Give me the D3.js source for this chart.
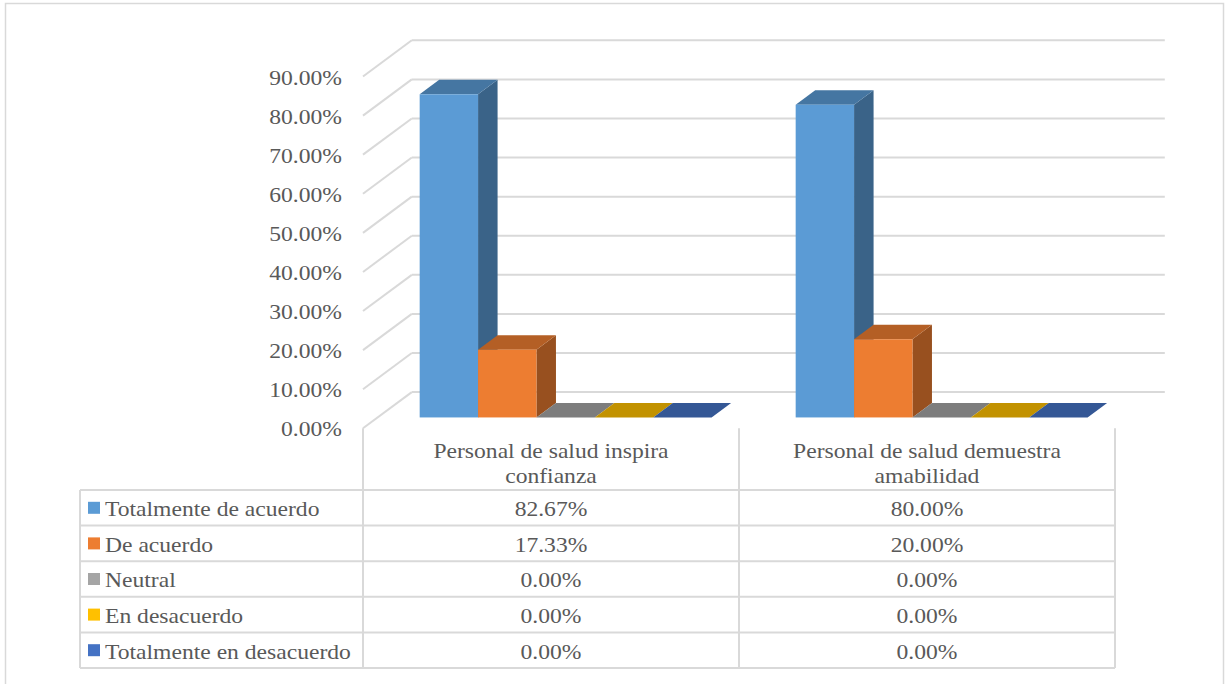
<!DOCTYPE html>
<html>
<head>
<meta charset="utf-8">
<script src="https://cdn.jsdelivr.net/npm/d3@7"></script>
<style>
  body { margin: 0; background: #fff; }
  text { font-family: "Liberation Serif", "Times New Roman", serif; fill: #595959; }
</style>
</head>
<body>
<div id="chart"></div>
<script>
// data
var categories = ["Personal de salud inspira confianza", "Personal de salud demuestra amabilidad"];
var categoryLines = [["Personal de salud inspira", "confianza"], ["Personal de salud demuestra", "amabilidad"]];
var series = ["Totalmente de acuerdo", "De acuerdo", "Neutral", "En desacuerdo", "Totalmente en desacuerdo"];
var inspiraValues = [82.67, 17.33, 0, 0, 0];
var amabilidadValues = [80.00, 20.00, 0, 0, 0];
var yTicks = [0, 10, 20, 30, 40, 50, 60, 70, 80, 90];

var seriesColors = ["#5b9bd5", "#ed7d31", "#a5a5a5", "#ffc000", "#4472c4"];

var svgWidth = 1227;
var svgHeight = 684;

// oblique depth of the 3D box (front -> back)
var depthX = 48.8;
var depthY = 36.2;
var barZ0 = 0.30;
var barZ1 = 0.70;
var textStretch = 1.18;

var svg = d3.select("#chart")
  .append("svg")
  .attr("width", svgWidth)
  .attr("height", svgHeight);

svg.append("rect")
  .attr("x", 5.5).attr("y", 3.5)
  .attr("width", 1218).attr("height", 720)
  .attr("fill", "#fff")
  .attr("stroke", "#d9d9d9")
  .attr("stroke-width", 1.5);

// scales (front plane)
var yScale = d3.scaleLinear()
  .domain([0, 90])
  .range([428.3, 76.5]);

var xScale = d3.scaleBand()
  .domain(categories)
  .range([363, 1115]);

var xInner = d3.scaleBand()
  .domain(series)
  .range([0, xScale.bandwidth()])
  .paddingOuter(0.72);

function px(x, z) { return x + z * depthX; }
function py(v, z) { return yScale(v) - z * depthY; }

// walls: back gridlines and left side diagonals
var grid = svg.append("g")
  .attr("stroke", "#d9d9d9")
  .attr("stroke-width", 2)
  .attr("fill", "none");

grid.selectAll(".back")
  .data(yTicks)
  .enter()
  .append("line")
  .attr("x1", px(363, 1))
  .attr("x2", px(1116, 1))
  .attr("y1", d => py(d, 1))
  .attr("y2", d => py(d, 1));

grid.selectAll(".side")
  .data(yTicks)
  .enter()
  .append("line")
  .attr("x1", px(363, 0))
  .attr("x2", px(363, 1))
  .attr("y1", d => py(d, 0))
  .attr("y2", d => py(d, 1));

// y labels
svg.selectAll(".ylabel")
  .data(yTicks)
  .enter()
  .append("text")
  .attr("text-anchor", "end")
  .attr("font-size", 20)
  .attr("transform", d => `translate(342, ${yScale(d) + 8}) scale(${textStretch},1)`)
  .text(d => d3.format(".2f")(d) + "%");

// shade helper
function shade(c, k) {
  var col = d3.rgb(c);
  return d3.rgb(col.r * k, col.g * k, col.b * k).formatHex();
}

var allValues = [inspiraValues, amabilidadValues];

var bars = [];
categories.forEach(function(cat, ci) {
  series.forEach(function(s, si) {
    bars.push({ cat: cat, s: s, si: si, value: allValues[ci][si] });
  });
});

var barGroup = svg.append("g");

bars.forEach(function(d) {
  var x0 = xScale(d.cat) + xInner(d.s);
  var x1 = x0 + xInner.bandwidth();
  var color = seriesColors[d.si];
  var g = barGroup.append("g");

  // right side face
  g.append("polygon")
    .attr("points", [
      [px(x1, barZ0), py(0, barZ0)],
      [px(x1, barZ0), py(d.value, barZ0)],
      [px(x1, barZ1), py(d.value, barZ1)],
      [px(x1, barZ1), py(0, barZ1)]
    ].join(" "))
    .attr("fill", shade(color, 0.64));

  // top face
  g.append("polygon")
    .attr("points", [
      [px(x0, barZ0), py(d.value, barZ0)],
      [px(x1, barZ0), py(d.value, barZ0)],
      [px(x1, barZ1), py(d.value, barZ1)],
      [px(x0, barZ1), py(d.value, barZ1)]
    ].join(" "))
    .attr("fill", shade(color, 0.76));

  // front face
  g.append("rect")
    .attr("x", px(x0, barZ0))
    .attr("y", py(d.value, barZ0))
    .attr("width", x1 - x0)
    .attr("height", py(0, barZ0) - py(d.value, barZ0))
    .attr("fill", color);
});

// data table
var rowScale = d3.scaleBand()
  .domain(series)
  .range([490, 668]);

var tableLines = svg.append("g")
  .attr("stroke", "#d9d9d9")
  .attr("stroke-width", 2)
  .attr("fill", "none");

// horizontal row lines
tableLines.selectAll(".hrow")
  .data(series.concat(["end"]))
  .enter()
  .append("line")
  .attr("x1", 80)
  .attr("x2", 1115)
  .attr("y1", (d, i) => i < series.length ? rowScale(d) : rowScale.range()[1])
  .attr("y2", (d, i) => i < series.length ? rowScale(d) : rowScale.range()[1]);

// left border of legend column
tableLines.append("line")
  .attr("x1", 80).attr("x2", 80)
  .attr("y1", 490).attr("y2", 668);

// column separators, from floor down
var colEdges = categories.map(c => xScale(c)).concat([xScale.range()[1]]);
tableLines.selectAll(".vcol")
  .data(colEdges)
  .enter()
  .append("line")
  .attr("x1", d => d).attr("x2", d => d)
  .attr("y1", 428.3)
  .attr("y2", 668);

// category headers
categoryLines.forEach(function(lines, ci) {
  var cx = xScale(categories[ci]) + xScale.bandwidth() / 2;
  lines.forEach(function(line, li) {
    svg.append("text")
      .attr("text-anchor", "middle")
      .attr("font-size", 20)
      .attr("transform", `translate(${cx}, ${458.3 + li * 25}) scale(${textStretch},1)`)
      .text(line);
  });
});

// legend keys and series names
series.forEach(function(s, si) {
  var cy = rowScale(s) + rowScale.bandwidth() / 2;
  svg.append("rect")
    .attr("x", 88)
    .attr("y", cy - 6)
    .attr("width", 12)
    .attr("height", 12)
    .attr("fill", seriesColors[si]);
  svg.append("text")
    .attr("font-size", 20)
    .attr("transform", `translate(105, ${cy + 8.3}) scale(${textStretch},1)`)
    .text(s);

  allValues.forEach(function(vals, ci) {
    var cx = xScale(categories[ci]) + xScale.bandwidth() / 2;
    svg.append("text")
      .attr("text-anchor", "middle")
      .attr("font-size", 20)
      .attr("transform", `translate(${cx}, ${cy + 8.3}) scale(${textStretch},1)`)
      .text(d3.format(".2f")(vals[si]) + "%");
  });
});
</script>
</body>
</html>
